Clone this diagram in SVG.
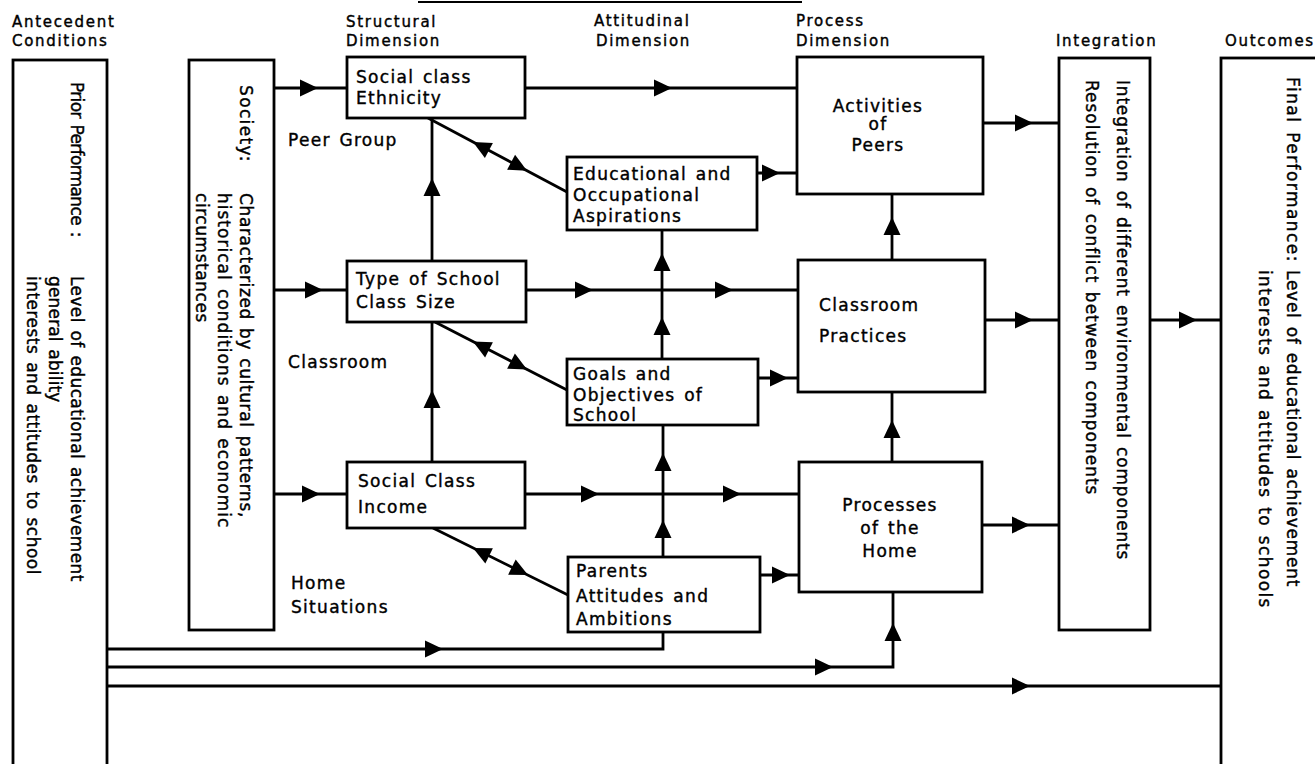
<svg xmlns="http://www.w3.org/2000/svg" xmlns:xlink="http://www.w3.org/1999/xlink" width="1315" height="764" viewBox="0 0 1315 764">
  <style>
    .box { fill: #fff; stroke: #000; stroke-width: 2.8; }
    .ln { fill: none; stroke: #000; stroke-width: 2.8; }
    text { font-family: "DejaVu Sans", "Liberation Sans", sans-serif; fill: #000; stroke: #000; stroke-width: 0.4; }
    .h { font-size: 15px; letter-spacing: 1.7px; }
    .t { font-size: 17px; letter-spacing: 1.3px; word-spacing: 2px; }
    .v { font-size: 17px; letter-spacing: 0.6px; word-spacing: 2px; }
  </style>
  <defs>
    <path id="ah" d="M0,0 L-18,-8.5 L-18,8.5 Z" fill="#000"/>
  </defs>
  <rect width="1315" height="764" fill="#fff"/>

  <!-- column headings -->
  <g id="headings">
    <line x1="418" y1="2" x2="802" y2="2" stroke="#000" stroke-width="2"/>
    <text class="h" x="12" y="27">Antecedent</text>
    <text class="h" x="12" y="46">Conditions</text>
    <text class="h" x="346" y="27">Structural</text>
    <text class="h" x="346" y="46">Dimension</text>
    <text class="h" x="594" y="26">Attitudinal</text>
    <text class="h" x="596" y="46">Dimension</text>
    <text class="h" x="796" y="26">Process</text>
    <text class="h" x="796" y="46">Dimension</text>
    <text class="h" x="1056" y="46">Integration</text>
    <text class="h" x="1225" y="46">Outcomes</text>
  </g>

  <!-- side labels -->
  <g id="labels">
    <text class="t" x="288" y="146" word-spacing="6">Peer Group</text>
    <text class="t" x="288" y="368">Classroom</text>
    <text class="t" x="291" y="589">Home</text>
    <text class="t" x="291" y="613">Situations</text>
  </g>

  <!-- connectors -->
  <g id="connectors">
    <!-- peer group row -->
    <line class="ln" x1="274" y1="88" x2="347" y2="88"/>
    <use xlink:href="#ah" transform="translate(318,88)"/>
    <line class="ln" x1="525" y1="88" x2="797" y2="88"/>
    <use xlink:href="#ah" transform="translate(672,88)"/>
    <line class="ln" x1="757" y1="173" x2="797" y2="173"/>
    <use xlink:href="#ah" transform="translate(780,173)"/>
    <line class="ln" x1="983" y1="123" x2="1059" y2="123"/>
    <use xlink:href="#ah" transform="translate(1033,123)"/>

    <!-- classroom row -->
    <line class="ln" x1="274" y1="290" x2="347" y2="290"/>
    <use xlink:href="#ah" transform="translate(323,290)"/>
    <line class="ln" x1="526" y1="290" x2="798" y2="290"/>
    <use xlink:href="#ah" transform="translate(593,290)"/>
    <use xlink:href="#ah" transform="translate(733,290)"/>
    <line class="ln" x1="758" y1="378" x2="798" y2="378"/>
    <use xlink:href="#ah" transform="translate(788,378)"/>
    <line class="ln" x1="985" y1="320" x2="1059" y2="320"/>
    <use xlink:href="#ah" transform="translate(1033,320)"/>
    <line class="ln" x1="1150" y1="320" x2="1221" y2="320"/>
    <use xlink:href="#ah" transform="translate(1197,320)"/>

    <!-- home row -->
    <line class="ln" x1="274" y1="494" x2="347" y2="494"/>
    <use xlink:href="#ah" transform="translate(320,494)"/>
    <line class="ln" x1="525" y1="494" x2="799" y2="494"/>
    <use xlink:href="#ah" transform="translate(599,494)"/>
    <use xlink:href="#ah" transform="translate(741,494)"/>
    <line class="ln" x1="760" y1="575" x2="799" y2="575"/>
    <use xlink:href="#ah" transform="translate(790,575)"/>
    <line class="ln" x1="982" y1="525" x2="1059" y2="525"/>
    <use xlink:href="#ah" transform="translate(1030,525)"/>

    <!-- prior performance feeds -->
    <polyline class="ln" points="107,649 663,649 663,632"/>
    <use xlink:href="#ah" transform="translate(443,649)"/>
    <polyline class="ln" points="107,667 893,667 893,592"/>
    <use xlink:href="#ah" transform="translate(833,667)"/>
    <use xlink:href="#ah" transform="translate(893,623) rotate(-90)"/>
    <line class="ln" x1="107" y1="686" x2="1221" y2="686"/>
    <use xlink:href="#ah" transform="translate(1030,686)"/>

    <!-- structural column verticals -->
    <line class="ln" x1="432" y1="261" x2="432" y2="118"/>
    <use xlink:href="#ah" transform="translate(432,178) rotate(-90)"/>
    <line class="ln" x1="432" y1="462" x2="432" y2="322"/>
    <use xlink:href="#ah" transform="translate(432,390) rotate(-90)"/>

    <!-- attitudinal column verticals -->
    <line class="ln" x1="662" y1="359" x2="662" y2="230"/>
    <use xlink:href="#ah" transform="translate(662,253) rotate(-90)"/>
    <use xlink:href="#ah" transform="translate(662,317) rotate(-90)"/>
    <line class="ln" x1="663" y1="557" x2="663" y2="425"/>
    <use xlink:href="#ah" transform="translate(663,453) rotate(-90)"/>
    <use xlink:href="#ah" transform="translate(663,520) rotate(-90)"/>

    <!-- process column verticals -->
    <line class="ln" x1="892" y1="260" x2="892" y2="194"/>
    <use xlink:href="#ah" transform="translate(892,217) rotate(-90)"/>
    <line class="ln" x1="892" y1="462" x2="892" y2="392"/>
    <use xlink:href="#ah" transform="translate(892,420) rotate(-90)"/>

    <!-- two-way diagonals -->
    <line class="ln" x1="428" y1="118" x2="567" y2="192"/>
    <use xlink:href="#ah" transform="translate(473,142) rotate(208)"/>
    <use xlink:href="#ah" transform="translate(527,170.7) rotate(28)"/>
    <line class="ln" x1="435" y1="322" x2="567" y2="390"/>
    <use xlink:href="#ah" transform="translate(473,341.6) rotate(207.3)"/>
    <use xlink:href="#ah" transform="translate(527,369.4) rotate(27.3)"/>
    <line class="ln" x1="433" y1="528" x2="568" y2="595"/>
    <use xlink:href="#ah" transform="translate(473,547.9) rotate(206.4)"/>
    <use xlink:href="#ah" transform="translate(528,575.1) rotate(26.4)"/>
  </g>

  <!-- antecedent conditions -->
  <g id="prior-performance">
    <rect class="box" x="13" y="60" width="94" height="720"/>
    <g transform="rotate(90)">
      <text class="v" x="82" y="-71" font-size="15.5" textLength="156" lengthAdjust="spacing">Prior Performance :</text>
      <text class="v" x="276" y="-71" textLength="306" lengthAdjust="spacing">Level of educational achievement</text>
      <text class="v" x="276" y="-49" textLength="127" lengthAdjust="spacing">general ability</text>
      <text class="v" x="276" y="-27" textLength="299" lengthAdjust="spacing">interests and attitudes to school</text>
    </g>
  </g>

  <g id="society">
    <rect class="box" x="189" y="60" width="85" height="570"/>
    <g transform="rotate(90)">
      <text class="v" x="85" y="-240" textLength="77" lengthAdjust="spacing">Society:</text>
      <text class="v" x="193" y="-240" textLength="325" lengthAdjust="spacing">Characterized by cultural patterns,</text>
      <text class="v" x="193" y="-218" textLength="335" lengthAdjust="spacing">historical conditions and economic</text>
      <text class="v" x="193" y="-196" textLength="130" lengthAdjust="spacing">circumstances</text>
    </g>
  </g>

  <!-- structural dimension -->
  <g id="social-class-ethnicity">
    <rect class="box" x="347" y="57" width="178" height="61"/>
    <text class="t" x="356" y="83">Social class</text>
    <text class="t" x="356" y="104">Ethnicity</text>
  </g>
  <g id="type-of-school">
    <rect class="box" x="347" y="261" width="179" height="61"/>
    <text class="t" x="356" y="285">Type of School</text>
    <text class="t" x="356" y="308">Class Size</text>
  </g>
  <g id="social-class-income">
    <rect class="box" x="347" y="462" width="178" height="66"/>
    <text class="t" x="358" y="487">Social Class</text>
    <text class="t" x="358" y="513">Income</text>
  </g>

  <!-- attitudinal dimension -->
  <g id="aspirations">
    <rect class="box" x="567" y="157" width="190" height="73"/>
    <text class="t" x="573" y="180">Educational and</text>
    <text class="t" x="573" y="201">Occupational</text>
    <text class="t" x="573" y="222">Aspirations</text>
  </g>
  <g id="school-goals">
    <rect class="box" x="567" y="359" width="191" height="66"/>
    <text class="t" x="573" y="380">Goals and</text>
    <text class="t" x="573" y="401">Objectives of</text>
    <text class="t" x="573" y="421">School</text>
  </g>
  <g id="parents">
    <rect class="box" x="568" y="557" width="192" height="75"/>
    <text class="t" x="576" y="577">Parents</text>
    <text class="t" x="576" y="602">Attitudes and</text>
    <text class="t" x="576" y="625">Ambitions</text>
  </g>

  <!-- process dimension -->
  <g id="peer-activities">
    <rect class="box" x="797" y="57" width="186" height="137"/>
    <text class="t" x="878" y="112" text-anchor="middle">Activities</text>
    <text class="t" x="878" y="130" text-anchor="middle">of</text>
    <text class="t" x="878" y="151" text-anchor="middle">Peers</text>
  </g>
  <g id="classroom-practices">
    <rect class="box" x="798" y="260" width="187" height="132"/>
    <text class="t" x="819" y="311">Classroom</text>
    <text class="t" x="819" y="342">Practices</text>
  </g>
  <g id="home-processes">
    <rect class="box" x="799" y="462" width="183" height="130"/>
    <text class="t" x="890" y="511" text-anchor="middle">Processes</text>
    <text class="t" x="890" y="534" text-anchor="middle">of the</text>
    <text class="t" x="890" y="557" text-anchor="middle">Home</text>
  </g>

  <!-- integration -->
  <g id="integration">
    <rect class="box" x="1059" y="58" width="91" height="572"/>
    <g transform="rotate(90)">
      <text class="v" x="80" y="-1117" textLength="480" lengthAdjust="spacing">Integration of different environmental components</text>
      <text class="v" x="80" y="-1086" textLength="415" lengthAdjust="spacing">Resolution of conflict between components</text>
    </g>
  </g>

  <!-- outcomes -->
  <g id="final-performance">
    <rect class="box" x="1221" y="58" width="110" height="720"/>
    <g transform="rotate(90)">
      <text class="v" x="77" y="-1287" textLength="185" lengthAdjust="spacing">Final Performance:</text>
      <text class="v" x="270" y="-1287" textLength="317" lengthAdjust="spacing">Level of educational achievement</text>
      <text class="v" x="270" y="-1259" textLength="338" lengthAdjust="spacing">interests and attitudes to schools</text>
    </g>
  </g>
</svg>
